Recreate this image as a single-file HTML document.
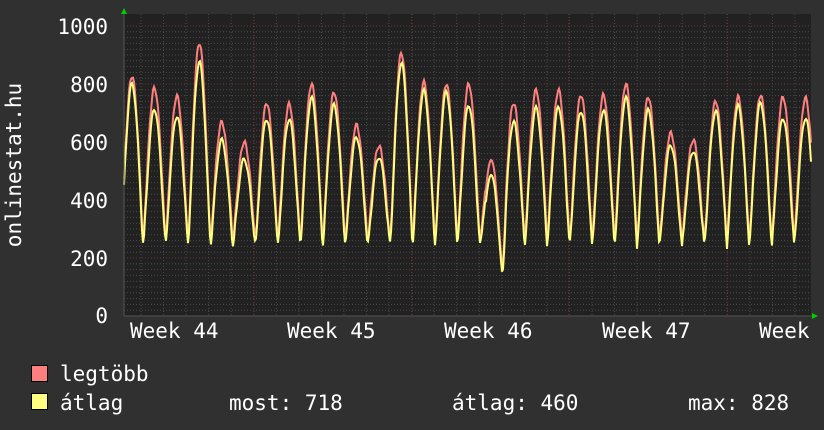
<!DOCTYPE html>
<html><head><meta charset="utf-8"><style>
body{margin:0;background:#303030;width:824px;height:430px;overflow:hidden}
svg{display:block}
text{font-family:"DejaVu Sans Mono","Liberation Mono",monospace;font-size:21px;fill:#fff}
</style></head><body>
<svg id="s" width="824" height="430" xmlns="http://www.w3.org/2000/svg">
<rect x="0" y="0" width="824" height="430" fill="#303030"/>
<rect x="124" y="14" width="687" height="302" fill="#212121"/>
<g id="grid"></g>
<path id="red" fill="none" stroke="#ff7f7f" stroke-width="2"/>
<path id="yel" fill="none" stroke="#ffff7f" stroke-width="2"/>
<line x1="124" y1="316" x2="816" y2="316" stroke="#555" stroke-width="1"/>
<line x1="124" y1="14" x2="124" y2="316" stroke="#555" stroke-width="1"/>
<polygon points="121,14 127,14 124,8" fill="#00cc00"/>
<polygon points="812,313 812,319 818,316" fill="#00cc00"/>
<g text-anchor="end">
<text x="108" y="34">1000</text><text x="108" y="92">800</text><text x="108" y="150">600</text>
<text x="108" y="208">400</text><text x="108" y="266">200</text><text x="108" y="323">0</text>
</g>
<text transform="translate(21,165) rotate(-90)" text-anchor="middle">onlinestat.hu</text>
<text x="130" y="338">Week 44</text><text x="287" y="338">Week 45</text>
<text x="444" y="338">Week 46</text><text x="602" y="338">Week 47</text><text x="759" y="338">Week</text>
<rect x="31.5" y="365.5" width="16" height="16" fill="#ff7f7f" stroke="#000"/>
<rect x="31.5" y="393.5" width="16" height="16" fill="#ffff7f" stroke="#000"/>
<text x="60" y="381">legtöbb</text>
<text x="60" y="410">átlag</text>
<text x="229" y="410">most: 718</text>
<text x="452" y="410">átlag: 460</text>
<text x="688" y="410">max: 828</text>
</svg>
<script>
var g=document.getElementById('grid'),h='';
for(var x=141;x<811;x+=22.55){h+='<line x1="'+x+'" y1="14" x2="'+x+'" y2="316" stroke="#4a4a4a" stroke-dasharray="1,2"/>';}
for(var v=20;v<=1000;v+=20){var y=316-v*0.29;var maj=v%200==0;h+='<line x1="124" y1="'+y+'" x2="811" y2="'+y+'" stroke="'+(maj?'#6a3838':'#4a4a4a')+'" stroke-dasharray="1,2"/>';}
[254,412,569,727].forEach(function(x){h+='<line x1="'+x+'" y1="14" x2="'+x+'" y2="316" stroke="#6a3838" stroke-dasharray="1,2"/>';});
g.innerHTML=h;
var peaks=[76,88,96,43,122,142,103,104,84,92,125,146,53,82,84,84,165,103,90,90,95,95,84,97,133,140,101,97,95,97,98];
var rd='',yd='';
for(var x=124;x<=811;x+=1){
 var i=Math.round((x-132)/22.45);if(i<0)i=0;if(i>30)i=30;
 var d=(x-(132+i*22.45))/22.45;
 var f=(Math.cos(d*2*Math.PI)+1)/2;f=Math.pow(f,0.6);
 var p=peaks[i],tr=238+((x*7)%5);
 if(x>485&&x<510){tr=258+(x>495&&x<506?12:0);}
 var ry=tr-(tr-p)*f+Math.sin(x*1.3)*2;
 var yp=p+8+((i*13)%14);
 var yy=(tr+6)-((tr+6)-yp)*f+Math.sin(x*0.9)*2;
 if(i==16){ry=tr-(tr-160)*f;yy=(tr+5)-((tr+5)-175)*f;}
 rd+=(x==124?'M':'L')+x+','+ry.toFixed(1);
 yd+=(x==124?'M':'L')+x+','+yy.toFixed(1);
}
document.getElementById('red').setAttribute('d',rd);
document.getElementById('yel').setAttribute('d',yd);
</script>
</body></html>
